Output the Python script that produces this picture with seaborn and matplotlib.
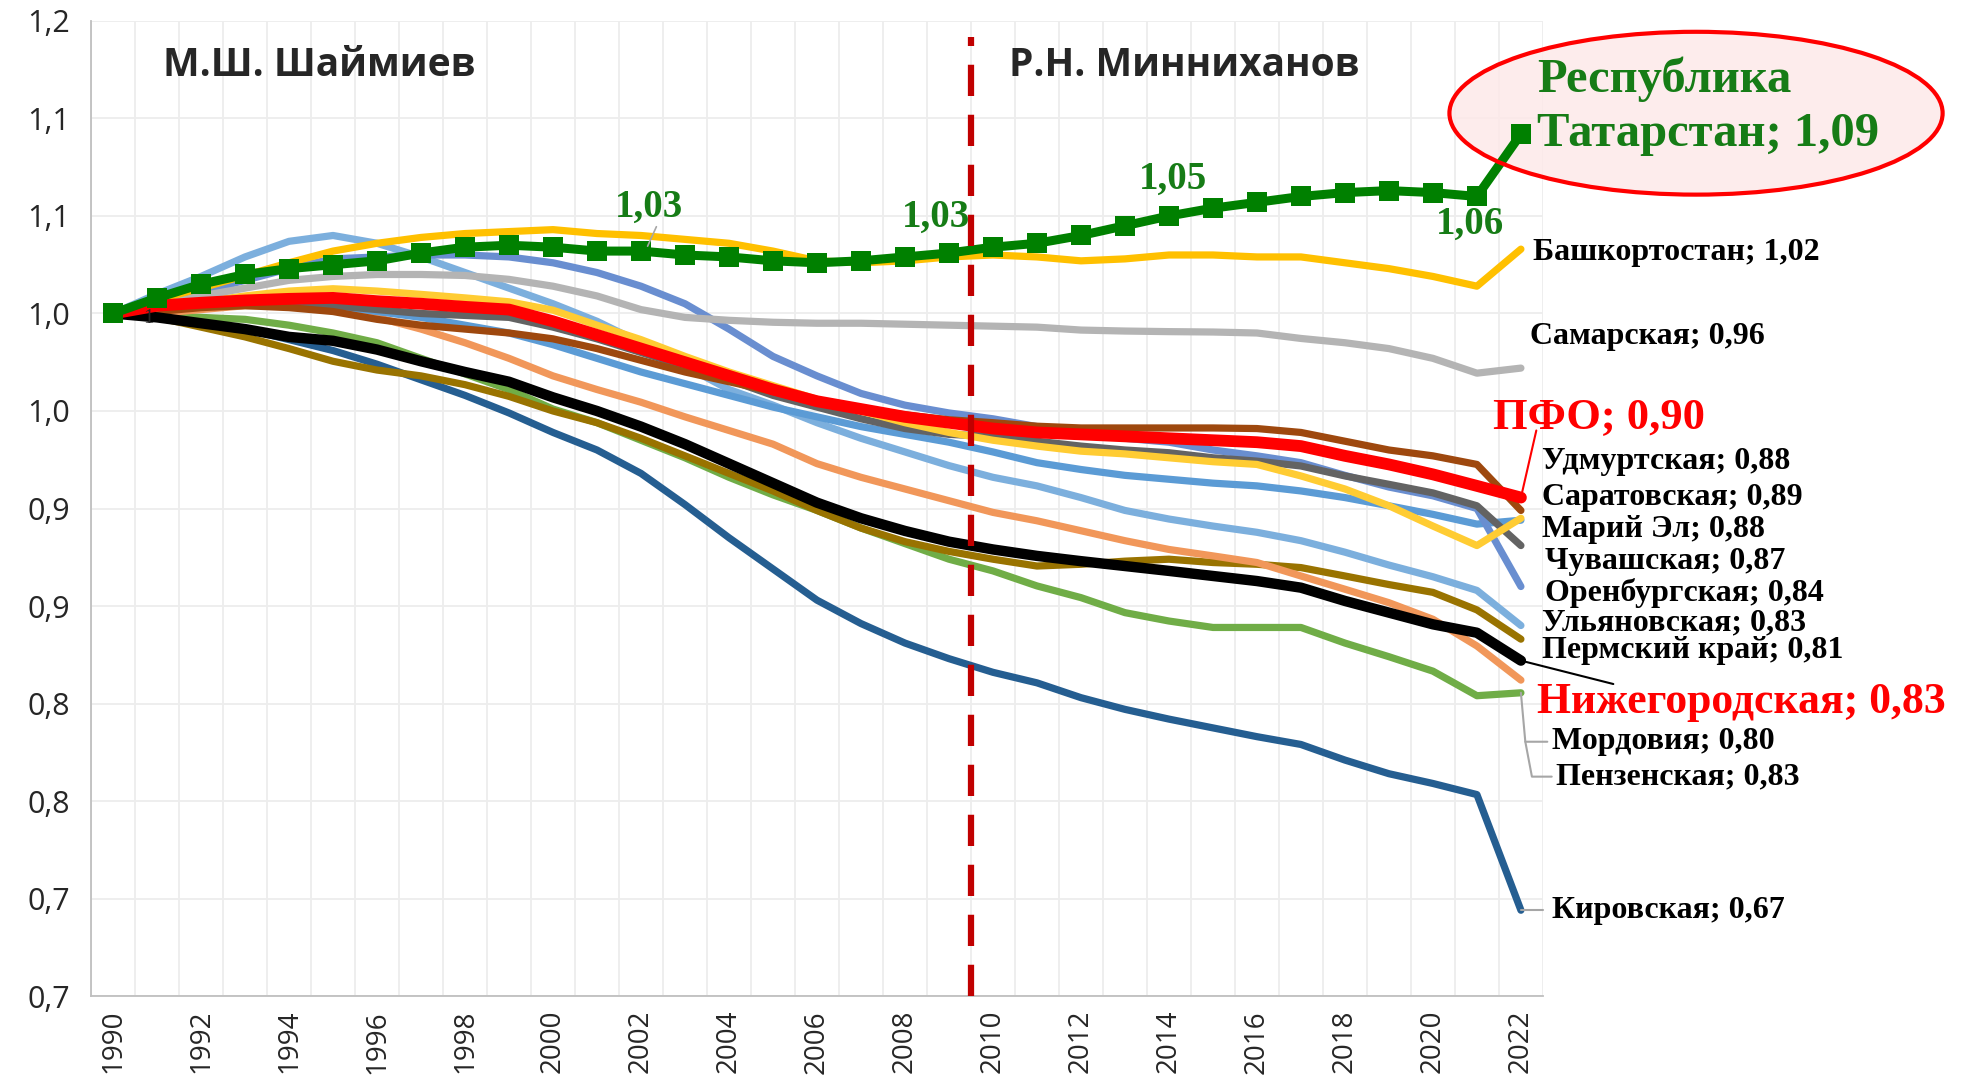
import math
import numpy as np
import pandas as pd
import matplotlib
matplotlib.use("Agg")
import matplotlib.pyplot as plt
from matplotlib.patches import Ellipse
from matplotlib.ticker import FuncFormatter
import seaborn as sns

years = list(range(1990, 2023))

tatarstan = [1.000, 1.008, 1.015, 1.020, 1.023, 1.025, 1.027, 1.031, 1.034, 1.035, 1.034,
             1.032, 1.032, 1.030, 1.029, 1.027, 1.026, 1.027, 1.029, 1.031, 1.034,
             1.036, 1.040, 1.045, 1.050, 1.054, 1.057, 1.060, 1.062, 1.063, 1.062, 1.060, 1.092]
bashkortostan = [1.000, 1.007, 1.013, 1.0195, 1.026, 1.032, 1.036, 1.039, 1.041, 1.042, 1.043,
                 1.041, 1.040, 1.038, 1.036, 1.032, 1.027, 1.026, 1.027, 1.029, 1.030,
                 1.029, 1.027, 1.028, 1.030, 1.030, 1.029, 1.029, 1.026, 1.023, 1.019, 1.014, 1.033]
samara = [1.000, 1.004, 1.009, 1.013, 1.017, 1.019, 1.020, 1.020, 1.0195, 1.0175, 1.014,
          1.009, 1.002, 0.998, 0.9965, 0.9955, 0.995, 0.995, 0.9945, 0.994, 0.9935,
          0.993, 0.9915, 0.991, 0.9907, 0.9905, 0.990, 0.9872, 0.985, 0.982, 0.977, 0.9694, 0.972]
pfo = [1.000, 1.004, 1.0055, 1.0067, 1.0075, 1.008, 1.0063, 1.005, 1.0034, 1.002, 0.996,
       0.989, 0.982, 0.975, 0.968, 0.961, 0.955, 0.951, 0.947, 0.944, 0.941,
       0.939, 0.938, 0.937, 0.936, 0.935, 0.934, 0.932, 0.927, 0.9226, 0.9175, 0.9116, 0.9056]
udmurt = [1.000, 1.001, 1.003, 1.004, 1.003, 1.001, 0.997, 0.994, 0.992, 0.990, 0.987,
          0.982, 0.976, 0.970, 0.965, 0.960, 0.955, 0.951, 0.948, 0.9455, 0.944,
          0.9422, 0.9413, 0.9413, 0.9413, 0.9413, 0.941, 0.939, 0.9345, 0.930, 0.927, 0.9226, 0.899]
saratov = [1.000, 1.003, 1.006, 1.009, 1.0115, 1.0127, 1.0115, 1.0098, 1.008, 1.006, 1.0017,
           0.994, 0.9866, 0.978, 0.970, 0.963, 0.956, 0.950, 0.944, 0.939, 0.935,
           0.932, 0.9294, 0.928, 0.926, 0.924, 0.9226, 0.9167, 0.910, 0.9014, 0.891, 0.881, 0.895]
mari_el = [1.000, 1.002, 1.004, 1.005, 1.005, 1.004, 1.001, 0.998, 0.994, 0.990, 0.984,
           0.977, 0.970, 0.964, 0.958, 0.952, 0.947, 0.942, 0.938, 0.934, 0.929,
           0.9235, 0.920, 0.917, 0.915, 0.913, 0.9116, 0.909, 0.9056, 0.9014, 0.897, 0.892, 0.894]
chuvash = [1.000, 1.002, 1.004, 1.005, 1.005, 1.004, 1.002, 1.000, 0.999, 0.998, 0.993,
           0.987, 0.980, 0.973, 0.966, 0.958, 0.952, 0.946, 0.941, 0.938, 0.937,
           0.9345, 0.932, 0.930, 0.9286, 0.926, 0.9243, 0.9218, 0.9167, 0.9124, 0.908, 0.9014, 0.881]
orenburg = [1.000, 1.005, 1.011, 1.017, 1.023, 1.028, 1.029, 1.030, 1.030, 1.029, 1.026,
            1.021, 1.014, 1.005, 0.992, 0.978, 0.968, 0.959, 0.953, 0.949, 0.946,
            0.942, 0.939, 0.936, 0.934, 0.930, 0.927, 0.9235, 0.917, 0.911, 0.9065, 0.900, 0.860]
ulyanovsk = [1.000, 1.010, 1.019, 1.029, 1.037, 1.040, 1.036, 1.029, 1.021, 1.013, 1.005,
             0.996, 0.985, 0.973, 0.961, 0.953, 0.944, 0.936, 0.929, 0.922, 0.916,
             0.9116, 0.9056, 0.899, 0.8946, 0.891, 0.8878, 0.8835, 0.8776, 0.871, 0.865, 0.858, 0.840]
perm = [1.000, 0.998, 0.993, 0.988, 0.982, 0.9755, 0.971, 0.968, 0.9635, 0.9575, 0.950,
        0.944, 0.936, 0.927, 0.918, 0.909, 0.899, 0.890, 0.883, 0.878, 0.874,
        0.8705, 0.8714, 0.873, 0.874, 0.8723, 0.8714, 0.8697, 0.8654, 0.861, 0.857, 0.848, 0.833]
nizhny = [1.000, 0.998, 0.995, 0.992, 0.988, 0.986, 0.9815, 0.9755, 0.970, 0.965, 0.957,
          0.950, 0.942, 0.933, 0.923, 0.913, 0.903, 0.895, 0.8885, 0.883, 0.879,
          0.8757, 0.873, 0.8705, 0.868, 0.8654, 0.8628, 0.8594, 0.8526, 0.8466, 0.8406, 0.8363, 0.822]
penza = [1.000, 1.000, 1.002, 1.004, 1.004, 1.003, 0.998, 0.992, 0.985, 0.977, 0.968,
         0.961, 0.9545, 0.947, 0.940, 0.933, 0.923, 0.916, 0.910, 0.904, 0.898,
         0.8937, 0.8886, 0.8835, 0.879, 0.8757, 0.8723, 0.8654, 0.8586, 0.8517, 0.8432, 0.8295, 0.812]
mordovia = [1.000, 0.999, 0.998, 0.997, 0.994, 0.990, 0.985, 0.977, 0.969, 0.961, 0.951,
            0.944, 0.935, 0.926, 0.916, 0.907, 0.899, 0.890, 0.882, 0.874, 0.868,
            0.8603, 0.8543, 0.8466, 0.8423, 0.839, 0.839, 0.839, 0.831, 0.824, 0.8166, 0.804, 0.8055]
kirov = [1.000, 0.998, 0.995, 0.992, 0.9866, 0.981, 0.974, 0.966, 0.958, 0.949, 0.939,
         0.930, 0.918, 0.902, 0.885, 0.869, 0.853, 0.841, 0.831, 0.823, 0.816,
         0.8106, 0.803, 0.797, 0.792, 0.7875, 0.783, 0.779, 0.771, 0.764, 0.759, 0.7533, 0.694]

# series drawn bottom to top: (values, colour, width)
series = [
    (kirov, "#255E91", 5.2),
    (mordovia, "#70AD47", 5.2),
    (perm, "#997300", 5.2),
    (penza, "#F1975A", 5.2),
    (ulyanovsk, "#7CAFDD", 5.2),
    (mari_el, "#5B9BD5", 5.2),
    (orenburg, "#698ED0", 5.2),
    (chuvash, "#636363", 5.2),
    (udmurt, "#9E480E", 5.2),
    (saratov, "#FFCC33", 5.2),
    (samara, "#B4B4B4", 5.2),
    (bashkortostan, "#FFC000", 5.2),
    (nizhny, "#000000", 7.5),
    (pfo, "#FF0000", 8.5),
]

right_labels = [
    ("Башкортостан; 1,02", 2022.27, 1.0315),
    ("Самарская; 0,96", 2022.2, 0.9884),
    ("Удмуртская; 0,88", 2022.47, 0.9242),
    ("Саратовская; 0,89", 2022.47, 0.9056),
    ("Марий Эл; 0,88", 2022.47, 0.889),
    ("Чувашская; 0,87", 2022.55, 0.8729),
    ("Оренбургская; 0,84", 2022.55, 0.8568),
    ("Ульяновская; 0,83", 2022.47, 0.8414),
    ("Пермский край; 0,81", 2022.47, 0.8273),
    ("Мордовия; 0,80", 2022.7, 0.7804),
    ("Пензенская; 0,83", 2022.8, 0.7625),
    ("Кировская; 0,67", 2022.7, 0.6938),
]
tat_labels = [("1,03", 2002.19, 1.0546), ("1,03", 2008.7, 1.0494),
              ("1,05", 2014.1, 1.0687), ("1,06", 2020.85, 1.0455)]

sns.set_style("white")
plt.rcParams["font.family"] = ["Open Sans", "DejaVu Sans"]

fig = plt.figure(figsize=(19.62, 10.81), dpi=100)
ax = fig.add_axes([0.0464, 0.0786, 0.740, 0.902])

for vals, col, lw in series:
    sns.lineplot(x=years, y=vals, color=col, linewidth=lw, ax=ax, zorder=3)
sns.lineplot(x=years, y=tatarstan, color="#008000", linewidth=6.5, marker="s",
             markersize=14, markeredgewidth=0, ax=ax, zorder=4)

# period divider
ax.plot([2009.5, 2009.5], [0.65, 1.142], color="#C00000", lw=4.5,
        dashes=(5.0, 3.0), zorder=5)

ax.set_xlim(1989.5, 2022.5)
ax.set_ylim(0.65, 1.15)
ax.set_xticks(range(1990, 2023, 2))
ax.set_xticks(np.arange(1989.5, 2023, 1), minor=True)
ax.set_yticks(np.arange(0.65, 1.1501, 0.05))
ax.yaxis.set_major_formatter(FuncFormatter(
    lambda v, p: f"{math.floor(v * 10 + 0.5 + 1e-6) / 10:.1f}".replace(".", ",")))
ax.tick_params(axis="x", which="major", length=0, labelsize=20, rotation=90,
               labelcolor="#262626", pad=10)
ax.tick_params(axis="x", which="minor", length=9, width=1.2, color="#BFBFBF")
ax.tick_params(axis="y", length=9, width=1.2, color="#BFBFBF", labelsize=22,
               labelcolor="#262626", pad=6)
ax.grid(False)
ax.grid(True, axis="y", which="major", color="#EDEDED", lw=1.3)
ax.grid(True, axis="x", which="minor", color="#EDEDED", lw=1.3)
for s in ["top", "right"]:
    ax.spines[s].set_visible(False)
for s in ["left", "bottom"]:
    ax.spines[s].set_color("#BFBFBF")
    ax.spines[s].set_linewidth(1.3)
ax.set_xlabel("")
ax.set_ylabel("")

ax.text(1994.68, 1.127, "М.Ш. Шаймиев", fontsize=28, fontweight="bold",
        ha="center", va="center")
ax.text(2014.34, 1.127, "Р.Н. Минниханов", fontsize=28, fontweight="bold",
        ha="center", va="center")

serif = "Liberation Serif"
ell = Ellipse((2025.98, 1.1027), 11.21, 0.0835, facecolor="#FDE9E9", alpha=0.85,
              edgecolor="none", zorder=2, clip_on=False)
ax.add_patch(ell)
ax.add_patch(Ellipse((2025.98, 1.1027), 11.21, 0.0835, facecolor="none",
                     edgecolor="#FF0000", lw=3, zorder=6, clip_on=False))
ax.text(2022.36, 1.120, "Республика", family=serif, fontweight="bold", fontsize=35,
        color="#167C16", va="center", ha="left", clip_on=False, zorder=7)
ax.text(2022.36, 1.0918, "Татарстан; 1,09", family=serif, fontweight="bold", fontsize=35,
        color="#167C16", va="center", ha="left", clip_on=False, zorder=7)

for txt, x, y in tat_labels:
    ax.text(x, y, txt, family=serif, fontweight="bold", fontsize=28, color="#167C16",
            ha="center", va="center", zorder=7)
ax.plot([2002.35, 2002.15], [1.0445, 1.0345], color="#A6A6A6", lw=1.2, zorder=6)
ax.text(1990.8, 0.9975, "1", family=serif, fontsize=15, color="#262626",
        ha="center", va="center", zorder=6)

for txt, x, y in right_labels:
    ax.text(x, y, txt, family=serif, fontweight="bold", fontsize=23, color="black",
            ha="left", va="center", clip_on=False)
ax.text(2021.36, 0.9467, "ПФО; 0,90", family=serif, fontweight="bold", fontsize=32,
        color="#FF0000", ha="left", va="center", clip_on=False)
ax.text(2022.36, 0.801, "Нижегородская; 0,83", family=serif, fontweight="bold",
        fontsize=31.5, color="#FF0000", ha="left", va="center", clip_on=False)

# leader lines
ax.plot([2022.0, 2022.35], [0.9056, 0.940], color="#FF0000", lw=1.5, clip_on=False, zorder=6)
ax.plot([2022.0, 2024.1], [0.822, 0.810], color="black", lw=1.5, clip_on=False, zorder=6)
ax.plot([2022.0, 2022.1, 2022.6], [0.8055, 0.7804, 0.7804], color="#A6A6A6", lw=1.5,
        clip_on=False, zorder=6)
ax.plot([2022.1, 2022.25, 2022.7], [0.7804, 0.7625, 0.7625], color="#A6A6A6", lw=1.5,
        clip_on=False, zorder=6)
ax.plot([2022.0, 2022.5], [0.694, 0.694], color="#A6A6A6", lw=1.5, clip_on=False, zorder=6)

fig.savefig("out.png", dpi=100)
